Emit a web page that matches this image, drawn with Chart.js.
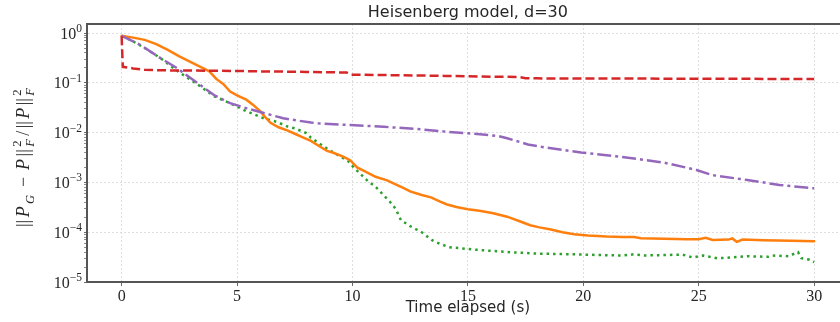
<!DOCTYPE html>
<html>
<head>
<meta charset="utf-8">
<script src="https://cdn.jsdelivr.net/npm/chart.js@4"></script>
<style>
  html, body { margin: 0; padding: 0; background: #fff; }
  canvas { display: block; }
</style>
</head>
<body>
<canvas id="chart" width="840" height="322"></canvas>
<script>
// relative error vs wall time, one (time, error) pair per curve
const redTime = [0, 0.05, 0.5, 1, 1.5, 2, 3, 4, 5, 6, 7, 8, 9, 9.75, 9.95, 10.5, 12, 14, 16, 17.2, 17.5, 18, 20, 22, 24, 26, 28, 30];
const redErr  = [0.86, 0.21, 0.195, 0.183, 0.179, 0.178, 0.177, 0.175, 0.173, 0.17, 0.168, 0.166, 0.163, 0.161, 0.146, 0.145, 0.142, 0.138, 0.133, 0.131, 0.124, 0.123, 0.122, 0.122, 0.121, 0.121, 0.12, 0.12];

const orangeTime = [0, 0.5, 1, 1.5, 2, 2.5, 3, 3.5, 3.8, 4.1, 4.4, 4.7, 5, 5.4, 5.7, 6, 6.2, 6.45, 6.8, 7.2, 7.5, 7.8, 8.2, 8.6, 8.9, 9.2, 9.6, 9.9, 10.2, 10.5, 11, 11.5, 11.8, 12.2, 12.5, 13, 13.4, 13.8, 14.1, 14.5, 15, 15.5, 16.1, 16.7, 17.3, 17.7, 18.1, 18.6, 19.1, 19.6, 20.2, 21, 21.7, 22.2, 22.5, 23.5, 24.5, 25, 25.3, 25.6, 26.3, 26.45, 26.65, 26.9, 27.8, 29, 30];
const orangeErr  = [0.88, 0.81, 0.73, 0.6, 0.46, 0.34, 0.26, 0.2, 0.17, 0.12, 0.095, 0.067, 0.056, 0.046, 0.036, 0.027, 0.021, 0.0158, 0.0128, 0.011, 0.0095, 0.0082, 0.0068, 0.0052, 0.0043, 0.0039, 0.0033, 0.0028, 0.002, 0.0017, 0.0013, 0.0011, 0.00095, 0.00078, 0.00066, 0.00056, 0.0005, 0.00041, 0.00036, 0.00032, 0.00029, 0.00027, 0.00024, 0.000205, 0.000162, 0.000138, 0.000125, 0.000113, 0.0001, 0.000091, 0.000086, 0.000082, 0.00008, 0.00008, 0.000076, 0.000074, 0.000072, 0.000072, 0.000077, 0.00007, 0.000071, 0.000075, 0.000064, 0.000071, 0.000069, 0.000067, 0.000066];

const greenTime = [0, 0.5, 1, 1.7, 2.4, 3.3, 4, 4.7, 5.4, 6.2, 6.7, 7.2, 7.5, 8, 8.2, 8.6, 9.05, 9.4, 9.8, 10.1, 10.4, 10.7, 11, 11.35, 11.6, 11.86, 12.1, 12.5, 13, 13.45, 13.8, 14.2, 15.2, 16.7, 18.1, 19.6, 21, 21.7, 22.2, 22.6, 24.3, 24.75, 25.2, 25.8, 26.4, 27.1, 28, 28.2, 28.9, 29.3, 29.45, 29.8, 30];
const greenErr  = [0.88, 0.68, 0.5, 0.31, 0.175, 0.092, 0.054, 0.039, 0.027, 0.019, 0.0166, 0.0132, 0.0122, 0.0098, 0.0079, 0.0059, 0.0043, 0.0035, 0.0027, 0.0019, 0.0014, 0.00103, 0.00082, 0.00055, 0.00042, 0.0003, 0.000175, 0.000132, 0.0001, 0.000069, 0.000058, 0.00005, 0.000045, 0.00004, 0.000037, 0.000036, 0.0000345, 0.000034, 0.000036, 0.000034, 0.0000355, 0.000031, 0.000034, 0.00003, 0.000031, 0.000033, 0.000032, 0.000034, 0.000033, 0.00004, 0.00003, 0.000028, 0.000025];

const purpleTime = [0, 0.8, 1.7, 2.4, 3.3, 4, 4.7, 5.4, 6.2, 7, 8.2, 8.5, 9.9, 11.35, 12.8, 14.1, 15, 16.3, 16.7, 17.6, 18.4, 19.9, 21.3, 22.5, 23.5, 24.9, 25.6, 27.1, 28.5, 30];
const purpleErr  = [0.88, 0.58, 0.31, 0.197, 0.098, 0.057, 0.039, 0.031, 0.0245, 0.0194, 0.0159, 0.0154, 0.0142, 0.0131, 0.0118, 0.0104, 0.0097, 0.0086, 0.0077, 0.0058, 0.005, 0.004, 0.0034, 0.0029, 0.0025, 0.00178, 0.0014, 0.00112, 0.00089, 0.00076];

const xTicks = [0, 5, 10, 15, 20, 25, 30];
const yDecades = [1e-5, 1e-4, 1e-3, 1e-2, 1e-1, 1e0];

const X_MIN = -1.5, X_MAX = 31.12;
const Y_MIN = 1e-5, Y_MAX = 1.52;

const SPINE = '#555555';
const GRID = '#d6d6d6';
const TEXT = '#262626';
const SERIF = '"Liberation Serif", "DejaVu Serif", serif';
const SANS = '"DejaVu Sans", sans-serif';

const yMinor = yDecades.flatMap(d => [2, 3, 4, 5, 6, 7, 8, 9].map(m => m * d)).filter(v => v < Y_MAX);
const yAllTicks = yDecades.concat(yMinor).sort((a, b) => a - b);
const isDecade = v => v != null && Math.abs(Math.log10(v) - Math.round(Math.log10(v))) < 1e-9;

const pts = (ts, vs) => ts.map((t, i) => ({ x: t, y: vs[i] }));

function line(data, color, dash, cap) {
  return {
    data, borderColor: color, borderWidth: 2.5, borderDash: dash,
    borderCapStyle: cap || 'butt', pointRadius: 0, tension: 0, fill: false
  };
}

const yLabelParts = [
  { t: '||' }, { t: 'P', it: true }, { sub: 'G' }, { t: ' − ' }, { t: 'P', it: true }, { t: '||' },
  { sup: '2', sub: 'F' }, { t: '/' }, { t: '||' }, { t: 'P', it: true }, { t: '||' }, { sup: '2', sub: 'F' }
];

// math-ish label: rotated, with sub/superscripts, stretched to a given length
function drawMath(ctx, parts, cx, cy, M, S, len) {
  const mf = it => (it ? 'italic ' : '') + M + 'px ' + SERIF;
  const sf = it => (it ? 'italic ' : '') + S + 'px ' + SERIF;
  const widthOf = p => {
    if (p.t) { ctx.font = mf(p.it); return ctx.measureText(p.t).width; }
    let w = 0;
    if (p.sup) { ctx.font = sf(false); w = Math.max(w, ctx.measureText(p.sup).width); }
    if (p.sub) { ctx.font = sf(true); w = Math.max(w, ctx.measureText(p.sub).width); }
    return w + 1;
  };
  const natural = parts.reduce((s, p) => s + widthOf(p), 0);
  const gap = Math.max(0, (len - natural) / (parts.length - 1));
  ctx.save();
  ctx.translate(cx, cy);
  ctx.rotate(-Math.PI / 2);
  ctx.textAlign = 'left';
  ctx.textBaseline = 'alphabetic';
  let pos = -(natural + gap * (parts.length - 1)) / 2;
  parts.forEach(p => {
    const w = widthOf(p);
    if (p.t) { ctx.font = mf(p.it); ctx.fillText(p.t, pos, 0); }
    else {
      if (p.sup) { ctx.font = sf(false); ctx.fillText(p.sup, pos, -M * 0.45); }
      if (p.sub) { ctx.font = sf(true); ctx.fillText(p.sub, pos, M * 0.25); }
    }
    pos += w + gap;
  });
  ctx.restore();
}

const decor = {
  id: 'decor',
  afterDraw(chart) {
    const { ctx, chartArea: a, scales: { x, y } } = chart;
    ctx.save();
    // top spine (right one is cut off by the picture edge)
    ctx.strokeStyle = SPINE;
    ctx.lineWidth = 2;
    ctx.beginPath();
    ctx.moveTo(a.left - 1, a.top);
    ctx.lineTo(a.right, a.top);
    ctx.stroke();

    // y tick labels as 10^n
    ctx.fillStyle = TEXT;
    const rx = a.left - 5;
    yDecades.forEach(v => {
      const py = y.getPixelForValue(v);
      const e = Math.round(Math.log10(v));
      const sup = e < 0 ? '−' + (-e) : String(e);
      ctx.font = '11.5px ' + SERIF;
      const sw = ctx.measureText(sup).width;
      ctx.textAlign = 'left';
      ctx.textBaseline = 'alphabetic';
      ctx.fillText(sup, rx - sw, py - 1);
      ctx.font = '16px ' + SERIF;
      ctx.textAlign = 'right';
      ctx.fillText('10', rx - sw, py + 5.5);
    });

    // title + x label centred on the full axes box
    const cx = x.getPixelForValue((xTicks[0] + xTicks[xTicks.length - 1]) / 2);
    ctx.textAlign = 'center';
    ctx.textBaseline = 'alphabetic';
    ctx.font = '16px ' + SANS;
    ctx.fillText('Heisenberg model, d=30', cx, 17);
    ctx.font = '15px ' + SANS;
    ctx.fillText('Time elapsed (s)', cx, 312);

    drawMath(ctx, yLabelParts, 29, (a.top + a.bottom) / 2 + 4, 18, 12.5, 140);
    ctx.restore();
  }
};

new Chart(document.getElementById('chart'), {
  type: 'line',
  data: {
    datasets: [
      line(pts(redTime, redErr), '#d62728', [9, 4]),
      line(pts(purpleTime, purpleErr), '#9467bd', [14, 4, 3, 4]),
      line(pts(orangeTime, orangeErr), '#ff7f0e', [], 'round'),
      line(pts(greenTime, greenErr), '#2ca02c', [2.5, 4])
    ]
  },
  options: {
    responsive: false,
    devicePixelRatio: 1,
    animation: false,
    parsing: false,
    layout: { padding: { top: 24, left: 0, right: 0, bottom: 0 } },
    plugins: { legend: { display: false }, title: { display: false }, tooltip: { enabled: false } },
    scales: {
      x: {
        type: 'linear', min: X_MIN, max: X_MAX,
        afterBuildTicks: s => { s.ticks = xTicks.map(v => ({ value: v })); },
        afterFit: s => { s.height = 40; },
        ticks: { autoSkip: false, maxRotation: 0, color: TEXT, font: { family: SERIF, size: 16 }, padding: 1, callback: v => String(v) },
        grid: { color: GRID, lineWidth: 0.8, tickColor: '#444', tickLength: 4, tickWidth: 0.8 },
        border: { color: SPINE, width: 2, dash: [2, 2] }
      },
      y: {
        type: 'logarithmic', min: Y_MIN, max: Y_MAX,
        afterBuildTicks: s => { s.ticks = yAllTicks.map(v => ({ value: v })); },
        afterFit: s => { s.width = 87; },
        ticks: { autoSkip: false, callback: () => '', padding: 0 },
        grid: {
          color: c => isDecade(c.tick && c.tick.value) ? GRID : 'rgba(0,0,0,0)',
          lineWidth: 0.8, tickColor: '#444', tickLength: 3,
          tickWidth: c => isDecade(c.tick && c.tick.value) ? 0.8 : 0.6
        },
        border: { color: SPINE, width: 2, dash: [2, 2] }
      }
    }
  },
  plugins: [decor]
});
</script>
</body>
</html>
